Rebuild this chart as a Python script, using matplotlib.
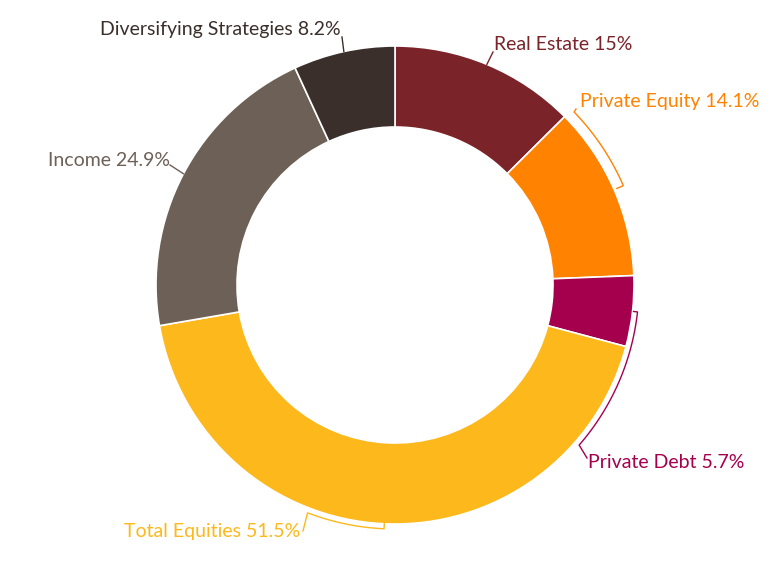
import numpy as np
import matplotlib.pyplot as plt

# slice data, clockwise from 12 o'clock
labels = ["Real Estate", "Private Equity", "Private Debt",
          "Total Equities", "Income", "Diversifying Strategies"]
values = [15, 14.1, 5.7, 51.5, 24.9, 8.2]
label_text = ["Real Estate 15%", "Private Equity 14.1%", "Private Debt 5.7%",
              "Total Equities 51.5%", "Income 24.9%", "Diversifying Strategies 8.2%"]
colors = ["#7A2329", "#FF8200", "#A4004D", "#FDB81C", "#6D6056", "#3B2F2B"]

W, H = 779, 578
CX, CY = 395, 285      # centre in pixel coords (y down)
R_OUT, R_IN = 239, 158

plt.rcParams['font.family'] = ['Lato', 'DejaVu Sans']

fig = plt.figure(figsize=(W / 100, H / 100), dpi=100)
ax = fig.add_axes([0, 0, 1, 1])

ax.pie(values, colors=colors, startangle=90, counterclock=False,
       radius=R_OUT, center=(CX, H - CY),
       wedgeprops=dict(width=R_OUT - R_IN, edgecolor='white', linewidth=1.2))
ax.set_xlim(0, W)
ax.set_ylim(0, H)
ax.set_aspect('equal')
ax.axis('off')


def pt(ang, r):
    # angle in degrees clockwise from top, returns data coords
    a = np.radians(ang)
    return CX + r * np.sin(a), H - (CY - r * np.cos(a))


total = sum(values)
starts = np.cumsum([0] + values[:-1]) / total * 360
mids = starts + np.array(values) / total * 360 / 2

# connector layout: (inner r, arc r, arc end angle, anchor px, text px, ha)
layout = [
    (R_OUT, None, None, (493, 52), (494, 44), 'left'),
    (242, 249, 46, (576, 109), (580, 102), 'left'),
    (240, 244, 131, (587, 458), (588, 463), 'left'),
    (238, 244, 201, (303, 531), (300, 531), 'right'),
    (R_OUT, None, None, (170, 165), (170, 160), 'right'),
    (R_OUT, None, None, (342, 37), (341, 30), 'right'),
]

for i, (r0, r_arc, a_end, anchor, tpos, ha) in enumerate(layout):
    pts = [pt(mids[i], r0)]
    if r_arc is not None:
        for a in np.linspace(mids[i], a_end, 60):
            pts.append(pt(a, r_arc))
    pts.append((anchor[0], H - anchor[1]))
    xs, ys = zip(*pts)
    ax.plot(xs, ys, color=colors[i], lw=1.0, solid_joinstyle='miter')
    ax.text(tpos[0], H - tpos[1], label_text[i], color=colors[i],
            fontsize=14, ha=ha, va='center')

fig.savefig("out.png", dpi=100)
